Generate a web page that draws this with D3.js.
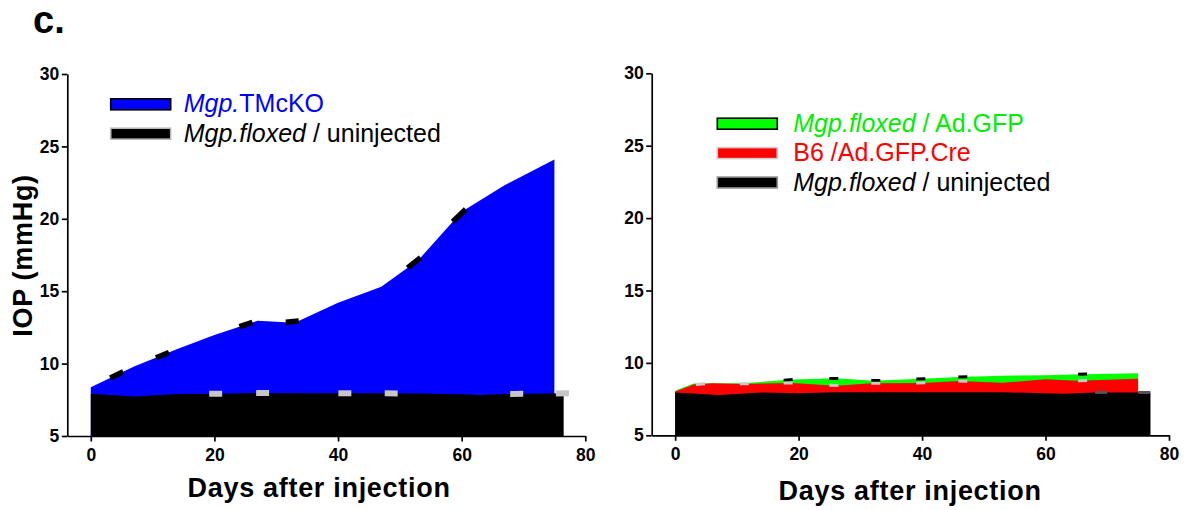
<!DOCTYPE html>
<html>
<head>
<meta charset="utf-8">
<script src="https://cdn.jsdelivr.net/npm/d3@7"></script>
<style>
    body { margin: 0; background: #fff; }
    svg { display: block; font-family: "Liberation Sans", Arial, Helvetica, sans-serif; }
    .axis path, .axis line { stroke: #000; stroke-width: 1.7px; }
    .axis text { font-size: 17.5px; font-weight: bold; fill: #000; }
</style>
</head>
<body>
<div id="chart"></div>
<script>
// ---- data (IOP in mmHg vs days after injection) ----
const tmDays = [0, 7, 14, 20, 27, 33, 40, 47, 53, 60, 67, 75];
const tmIOP = [8.36, 9.8, 11.0, 11.98, 12.96, 12.82, 14.2, 15.31, 17.15, 20.49, 22.33, 24.1];
const tmDashDays = [4.2, 11.6, 25.1, 32.6, 52.3, 59.6];

const uninjDaysL = [0, 7, 14, 21, 27, 33, 40, 47, 53, 60, 63, 67, 76.5];
const uninjIOPL = [7.92, 7.72, 7.9, 7.92, 7.97, 7.96, 7.95, 7.95, 7.93, 7.88, 7.83, 7.9, 7.95];
const uninjDashDaysL = [20.2, 27.8, 41.1, 48.6, 68.9, 76.3];

const gfpDays = [0, 3, 11, 19, 26, 32, 40, 46, 53, 60, 66, 75];
const gfpIOP = [8.08, 8.58, 8.6, 8.85, 8.94, 8.77, 8.9, 9.03, 9.12, 9.15, 9.22, 9.28];
const gfpDashDays = [18.3, 25.7, 32.5, 39.8, 46.6, 66];

const creDays = [0, 3, 6, 11, 19, 26, 32, 40, 46, 53, 60, 65, 75];
const creIOP = [8.02, 8.5, 8.6, 8.55, 8.62, 8.43, 8.6, 8.62, 8.75, 8.63, 8.87, 8.77, 8.9];
const creDashDays = [4.1, 11.2, 18.3, 25.7, 32.5, 39.8, 46.6, 66];

const uninjDaysR = [0, 7, 14, 20, 26, 33, 40, 47, 53, 60, 63, 68, 77];
const uninjIOPR = [7.96, 7.78, 7.95, 7.9, 7.98, 7.98, 7.97, 7.98, 7.97, 7.9, 7.87, 7.96, 7.96];
const uninjDashDaysR = [69, 76];

const xTicks = [0, 20, 40, 60, 80];
const yTicks = [5, 10, 15, 20, 25, 30];

const legendLeft = [
    [["Mgp.", true], ["TMcKO", false]],
    [["Mgp.floxed", true], [" / uninjected", false]]
];
const legendRight = [
    [["Mgp.floxed", true], [" / Ad.GFP", false]],
    [["B6 /Ad.GFP.Cre", false]],
    [["Mgp.floxed", true], [" / uninjected", false]]
];

const svg = d3.select('#chart').append('svg')
    .attr('width', 1198)
    .attr('height', 510);

svg.append('text')
    .attr('x', 33).attr('y', 33)
    .style('font-size', '38px').style('font-weight', 'bold')
    .text('c.');

function drawPanel(p) {
    const x = d3.scaleLinear().domain([-3.8, 80]).range([p.axisX, p.right]);
    const y = d3.scaleLinear().domain([5, 30]).range([p.bottom, p.top]);
    const g = svg.append('g');

    const area = d3.area()
        .x(d => x(d[0]))
        .y0(y(5))
        .y1(d => y(d[1]));

    // filled series, back to front
    p.series.forEach(s => {
        g.append('path')
            .datum(d3.zip(s.days, s.vals))
            .attr('d', area)
            .attr('fill', s.color);
    });

    // short dashes sitting on the top edge of each area
    p.series.forEach(s => {
        const f = d3.scaleLinear().domain(s.days).range(s.vals).clamp(true);
        const half = s.dashLen / 2 / (x(1) - x(0));
        g.selectAll(null)
            .data(s.dashDays)
            .enter()
            .append('line')
            .attr('x1', d => x(d - half))
            .attr('y1', d => y(f(d - half)))
            .attr('x2', d => x(d + half))
            .attr('y2', d => y(f(d + half)))
            .attr('stroke', s.dashColor)
            .attr('stroke-width', s.dashWidth);
    });

    // axes
    g.append('g')
        .attr('class', 'axis')
        .attr('transform', `translate(0,${p.bottom})`)
        .call(d3.axisBottom(x).tickValues(xTicks).tickSize(5.5).tickSizeOuter(0).tickPadding(7));
    g.append('g')
        .attr('class', 'axis')
        .attr('transform', `translate(${p.axisX},0)`)
        .call(d3.axisLeft(y).tickValues(yTicks).tickSize(5.5).tickSizeOuter(0).tickPadding(2.5));

    // axis titles
    g.append('text')
        .attr('x', (x(0) + x(80)) / 2 + p.titleShift)
        .attr('y', p.titleY)
        .attr('text-anchor', 'middle')
        .style('font-size', '27px').style('font-weight', 'bold').style('letter-spacing', '0.7px')
        .text('Days after injection');

    if (p.yTitle) {
        g.append('text')
            .attr('transform', `translate(32,${(p.top + p.bottom) / 2 + 0.5}) rotate(-90)`)
            .attr('text-anchor', 'middle')
            .style('font-size', '27px').style('font-weight', 'bold').style('letter-spacing', '0.7px')
            .text('IOP (mmHg)');
    }

    // legend
    const lg = g.append('g');
    p.legend.forEach((parts, i) => {
        const s = p.series[p.legendOrder[i]];
        const base = p.legendY + i * 29.4;
        lg.append('rect')
            .attr('x', p.axisX + p.legendDx)
            .attr('y', base - 13.5)
            .attr('width', 60)
            .attr('height', 11)
            .attr('fill', s.color)
            .attr('stroke', s.boxStroke)
            .attr('stroke-width', 1.6);
        const t = lg.append('text')
            .attr('x', p.axisX + p.legendDx + p.legendTextDx)
            .attr('y', base)
            .attr('fill', s.textColor)
            .style('font-size', '25px');
        parts.forEach(([txt, it]) => {
            t.append('tspan')
                .style('font-style', it ? 'italic' : 'normal')
                .style('white-space', 'pre')
                .text(txt);
        });
    });
}

drawPanel({
    axisX: 67.3, right: 585.3, top: 74, bottom: 436,
    titleY: 497, titleShift: -19, yTitle: true,
    legendDx: 43.4, legendTextDx: 73, legendY: 112.3,
    legendOrder: [0, 1],
    legend: legendLeft,
    series: [
        { days: tmDays, vals: tmIOP, color: '#0000ff', textColor: '#0000ff', boxStroke: '#000',
          dashDays: tmDashDays, dashColor: '#000', dashLen: 13, dashWidth: 5.5 },
        { days: uninjDaysL, vals: uninjIOPL, color: '#000', textColor: '#000', boxStroke: '#bbb',
          dashDays: uninjDashDaysL, dashColor: '#c6c6c6', dashLen: 13, dashWidth: 6 }
    ]
});

drawPanel({
    axisX: 651.7, right: 1169, top: 73.3, bottom: 435.3,
    titleY: 500, titleShift: -12, yTitle: false,
    legendDx: 65.6, legendTextDx: 76, legendY: 131.7,
    legendOrder: [0, 1, 2],
    legend: legendRight,
    series: [
        { days: gfpDays, vals: gfpIOP, color: '#00ff00', textColor: '#00ee00', boxStroke: '#000',
          dashDays: gfpDashDays, dashColor: '#000', dashLen: 9, dashWidth: 3 },
        { days: creDays, vals: creIOP, color: '#ff0000', textColor: '#ff0000', boxStroke: '#ccc',
          dashDays: creDashDays, dashColor: '#c8c8c8', dashLen: 9, dashWidth: 3 },
        { days: uninjDaysR, vals: uninjIOPR, color: '#000', textColor: '#000', boxStroke: '#999',
          dashDays: uninjDashDaysR, dashColor: '#555', dashLen: 12, dashWidth: 3 }
    ]
});
</script>
</body>
</html>
